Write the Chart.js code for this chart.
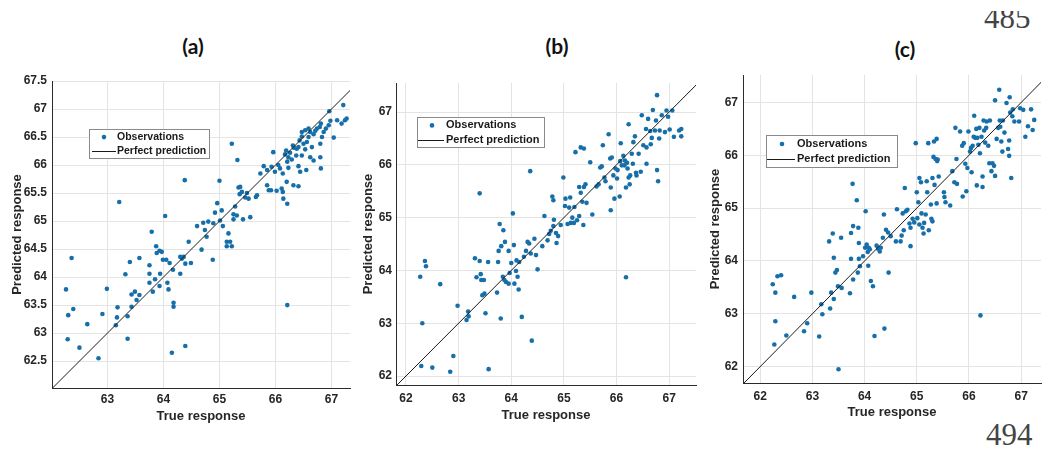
<!DOCTYPE html>
<html>
<head>
<meta charset="utf-8">
<script src="https://cdn.jsdelivr.net/npm/chart.js@4.4.0/dist/chart.umd.min.js"></script>
<style>
  body { margin: 0; background: #fff; width: 1045px; height: 450px; overflow: hidden; position: relative; }
  .panel { position: absolute; top: 0; }
  .tag { position: absolute; transform: translate(-50%, -50%); font: bold 21px Lato, "Open Sans", sans-serif; color: #111; }
  .pageno { position: absolute; font: 31px "Liberation Serif", serif; color: #444; line-height: 1; }
  .clip { position: absolute; overflow: hidden; }
</style>
</head>
<body>
<div class="tag" style="left:193px;top:45px">(a)</div>
<div class="tag" style="left:557px;top:45px">(b)</div>
<div class="tag" style="left:905px;top:48px">(c)</div>
<div class="clip" style="left:980px;top:11px;width:65px;height:20px"><div class="pageno" style="left:4px;top:-9px">485</div></div>
<div class="pageno" style="left:986px;top:419px">494</div>

<div class="panel" style="left:0px"><canvas id="chartA" width="355" height="450"></canvas></div>
<div class="panel" style="left:355px"><canvas id="chartB" width="345" height="450"></canvas></div>
<div class="panel" style="left:700px"><canvas id="chartC" width="345" height="450"></canvas></div>

<script>
// ------------------------------
// DATA
// ------------------------------
const trueA = [62.26,62.36,62.30,62.39,62.29,62.50,62.64,62.84,62.91,62.99,
  63.21,63.18,63.17,63.15,63.32,63.36,63.36,63.40,63.43,63.49,
  63.43,63.52,63.57,63.57,63.75,63.75,63.79,63.75,63.81,63.85,
  63.87,63.88,63.93,63.97,63.93,63.94,63.99,64.05,64.11,64.03,
  64.07,64.09,64.17,64.18,64.18,64.15,64.30,64.33,64.36,64.38,
  64.39,64.39,64.45,64.49,64.30,64.60,64.68,64.71,64.74,64.77,
  64.80,64.88,64.89,64.92,64.96,65.00,65.01,65.04,65.06,65.13,
  65.13,65.16,65.19,65.22,65.22,65.25,65.25,65.28,65.31,65.34,
  65.32,65.36,65.37,65.40,65.42,65.46,65.49,65.52,65.55,65.65,
  65.67,65.73,65.79,65.85,65.88,65.85,65.92,65.93,65.96,65.99,
  66.02,66.05,66.08,66.11,66.13,66.13,66.14,66.17,66.19,66.21,
  66.23,66.23,66.20,66.21,66.26,66.29,66.31,66.32,66.33,66.37,
  66.38,66.41,66.43,66.44,66.47,66.47,66.50,66.53,66.56,66.59,
  66.41,66.21,66.47,66.53,66.59,66.62,66.68,66.71,66.74,66.79,
  66.81,66.86,66.90,66.95,66.98,66.96,67.21,67.10,67.18,67.24,
  67.27,67.04,66.83,66.80,66.65,66.80,66.62,66.55,66.81,66.41,
  66.68];
const predA = [63.78,64.34,63.32,63.43,62.89,62.74,63.16,62.55,63.34,63.79,
  65.34,63.46,63.28,63.14,64.05,63.30,62.90,64.27,63.69,63.74,
  63.47,63.59,64.34,63.68,63.90,64.21,64.81,64.06,63.74,63.96,
  64.55,64.43,64.47,64.45,63.84,64.06,64.31,64.31,64.25,65.09,
  63.90,63.78,64.13,63.47,63.54,62.65,64.06,64.33,64.36,65.73,
  64.24,62.77,64.63,64.25,64.36,64.91,64.49,64.97,64.84,64.72,
  64.99,64.31,64.96,65.15,65.32,65.72,65.01,65.19,64.91,64.55,
  64.63,64.78,64.63,64.55,66.38,65.12,65.03,65.26,65.10,65.60,
  66.09,65.48,65.61,65.52,65.03,65.42,65.50,65.40,65.07,65.43,
  65.46,65.85,65.98,65.91,65.55,65.64,65.55,65.97,66.23,65.88,
  65.54,66.00,65.94,65.58,65.52,65.85,65.40,66.19,66.26,66.06,
  66.14,65.95,65.70,65.31,66.22,66.10,66.35,65.64,66.31,66.17,
  66.29,65.98,66.44,65.88,66.17,66.51,66.38,66.28,66.41,66.50,
  65.62,63.50,66.59,66.62,66.65,66.59,66.55,66.61,66.65,66.68,
  66.74,66.59,66.65,66.71,66.79,66.96,67.07,66.80,66.74,66.80,
  66.83,66.49,66.50,66.38,66.32,66.14,66.14,65.91,65.94,66.32,
  66.08];

const trueB = [62.27,62.36,62.38,62.31,62.29,62.50,62.65,62.84,62.90,62.98,
  63.40,63.15,63.19,63.18,63.31,63.34,63.40,63.42,63.43,63.48,
  63.45,63.49,63.51,63.56,63.57,63.73,63.75,63.76,63.78,63.80,
  63.81,63.85,63.84,63.87,63.90,63.88,63.95,63.95,63.97,64.00,
  64.03,64.05,64.06,64.09,64.10,64.12,64.15,64.14,64.20,64.24,
  64.28,64.31,64.36,64.34,64.37,64.39,64.44,64.47,64.50,64.59,
  64.63,64.69,64.72,64.75,64.78,64.80,64.80,64.81,64.85,64.86,
  64.89,64.94,64.99,65.02,65.03,65.07,65.10,65.13,65.12,65.16,
  65.19,65.20,65.22,65.25,65.29,65.29,65.32,65.32,65.35,65.37,
  65.38,65.38,65.41,65.43,65.50,65.54,65.62,65.66,65.69,65.72,
  65.74,65.77,65.79,65.85,65.88,65.89,65.91,65.94,65.96,65.98,
  66.01,66.02,66.07,66.08,66.10,66.06,66.13,66.15,66.16,66.18,
  66.20,66.21,66.23,66.25,66.23,66.26,66.29,66.31,66.32,66.35,
  66.37,66.38,66.42,66.46,66.48,66.51,66.56,66.57,66.60,66.64,
  66.67,66.69,66.73,66.75,66.77,66.77,66.79,66.81,66.82,66.86,
  66.92,66.95,66.98,67.01,67.06,67.09,67.19,67.23,67.23,66.18,
  66.57,66.65,65.89];
const predB = [63.88,64.18,64.08,63.00,62.19,62.16,63.74,62.08,62.38,63.33,
  65.46,63.06,63.13,63.22,64.23,63.87,64.18,63.93,63.82,63.82,
  63.53,63.56,63.19,64.16,62.13,63.58,64.16,64.37,64.88,63.09,
  64.46,64.76,63.88,63.82,63.78,64.54,64.37,63.75,63.95,64.14,
  65.08,64.48,63.75,63.99,64.19,63.88,64.16,63.64,63.12,64.26,
  64.37,64.54,65.88,64.51,64.32,62.67,64.60,64.29,64.02,64.46,
  65.03,64.57,64.69,64.75,65.40,65.33,64.84,64.96,64.71,64.52,
  64.65,64.86,65.76,65.22,65.36,64.88,65.19,64.90,65.38,65.00,
  64.90,65.20,66.24,64.95,65.03,65.58,66.33,65.47,65.30,64.86,
  66.31,65.58,65.63,65.28,66.05,65.06,65.59,65.63,65.95,65.97,
  66.37,65.76,65.69,66.58,66.12,65.57,66.14,65.80,65.36,65.93,
  65.74,65.90,66.07,66.41,65.99,65.40,66.17,65.99,66.08,65.57,
  66.04,65.93,66.77,65.63,65.76,65.80,66.21,66.02,66.43,66.54,
  65.85,65.80,66.21,65.87,66.94,66.37,66.68,66.33,66.87,66.64,
  66.51,67.04,66.65,66.84,67.32,65.90,65.69,66.50,66.65,66.94,
  66.62,67.03,66.91,66.67,67.03,66.53,66.65,66.68,66.54,63.87,
  66.02,66.39,65.14];

const trueC = [62.24,62.33,62.40,62.29,62.29,62.27,62.50,62.65,62.84,62.90,
  62.98,63.13,63.19,63.17,63.32,63.34,63.36,63.39,63.41,63.41,
  63.44,63.47,63.49,63.50,63.55,63.56,63.72,63.74,63.74,63.77,
  63.78,63.78,63.85,63.87,63.88,63.89,63.89,63.91,63.97,64.01,
  64.02,64.04,64.06,64.07,64.08,64.10,64.12,64.16,64.19,64.23,
  64.26,64.29,64.31,64.35,64.37,64.38,64.41,64.45,64.46,64.50,
  64.60,64.62,64.69,64.71,64.73,64.75,64.77,64.79,64.82,64.86,
  64.88,64.88,64.92,64.95,64.98,65.00,65.01,65.03,65.05,65.05,
  65.08,65.09,65.11,65.13,65.14,65.17,65.19,65.20,65.22,65.23,
  65.27,65.28,65.30,65.30,65.32,65.33,65.34,65.36,65.38,65.39,
  65.38,65.40,65.42,65.52,65.53,65.55,65.64,65.68,65.72,65.74,
  65.76,65.77,65.83,65.87,65.88,65.90,65.93,65.95,65.97,65.99,
  66.02,66.04,66.05,66.07,66.09,66.10,66.12,66.14,66.15,66.16,
  66.18,66.20,66.21,66.22,66.24,66.26,66.26,66.28,66.29,66.31,
  66.33,66.34,66.37,66.39,66.40,66.43,66.45,66.48,66.50,66.50,
  66.53,66.56,66.58,66.59,66.62,66.64,66.65,66.68,66.72,66.75,
  66.77,66.78,66.79,66.81,66.83,66.84,66.87,66.96,66.98,67.04,
  67.08,67.13,67.19,67.22,67.25,66.77,66.60];
const predC = [63.56,63.71,63.73,63.40,62.86,62.42,62.59,63.32,62.67,62.82,
  63.40,62.57,62.99,63.18,64.37,63.10,63.40,64.52,64.06,63.28,
  63.78,63.83,63.52,61.95,64.44,63.49,63.39,64.04,64.53,65.46,
  64.66,63.65,65.15,63.78,64.63,64.34,64.04,63.90,64.09,64.25,
  64.94,64.31,64.17,63.91,64.25,64.22,63.62,63.52,62.58,64.29,
  64.23,64.18,64.25,64.44,64.88,62.72,64.59,64.54,63.78,64.47,
  64.37,64.98,64.37,64.48,64.90,64.58,65.38,64.94,64.97,64.71,
  64.63,64.28,64.80,64.73,66.23,65.30,64.81,65.11,65.57,64.69,
  65.49,64.90,64.63,64.52,64.72,64.88,65.51,65.30,66.23,64.58,
  65.07,64.80,64.75,65.57,65.97,66.26,65.44,65.93,65.09,65.89,
  66.31,65.92,65.60,65.30,65.21,65.11,65.05,65.70,65.49,66.52,
  65.93,65.46,66.45,66.18,65.22,66.23,65.84,65.32,65.76,66.45,
  66.07,66.14,65.68,66.18,66.35,66.75,66.33,66.50,65.43,66.33,
  66.20,66.52,66.04,62.97,66.35,65.60,65.40,66.66,66.47,66.24,
  66.52,66.64,66.18,65.85,66.66,65.70,65.85,65.80,65.61,67.04,
  66.31,66.52,67.24,66.66,66.26,66.07,66.66,66.43,66.99,66.12,
  65.99,67.10,66.81,65.57,66.74,66.87,66.64,66.64,66.89,66.86,
  66.35,66.55,66.87,66.48,66.67,66.28,66.54];

// perfect prediction line (y = x) ends
const perfectLine = [61.5, 67.6];

// tick labels and axis ranges
const xTicksA = [63, 64, 65, 66, 67];
const yTicksA = [62.5, 63, 63.5, 64, 64.5, 65, 65.5, 66, 66.5, 67, 67.5];
const xTicksBC = [62, 63, 64, 65, 66, 67];
const yTicksBC = [62, 63, 64, 65, 66, 67];
const xRangeA = [62.01, 67.33], yRangeA = [62.02, 67.5];
const xRangeB = [61.81, 67.51], yRangeB = [61.83, 67.55];
const xRangeC = [61.67, 67.38], yRangeC = [61.69, 67.52];

const seriesLabels = ["Observations", "Perfect prediction"];

// ------------------------------
// LEGEND BOX INSIDE THE AXES
// ------------------------------
const legendBoxPlugin = {
  id: "legendBox",
  afterDraw(chart, args, b) {
    const ctx = chart.ctx;
    const obs = chart.data.datasets[0];
    const line = chart.data.datasets[1];
    const r1 = b.y + b.h * 0.28;
    const r2 = b.y + b.h * 0.75;
    ctx.save();
    ctx.fillStyle = "#ffffff";
    ctx.fillRect(b.x, b.y, b.w, b.h);
    ctx.strokeStyle = "#8a8a8a";
    ctx.lineWidth = 1;
    ctx.strokeRect(b.x + 0.5, b.y + 0.5, b.w, b.h);
    ctx.fillStyle = obs.backgroundColor;
    ctx.beginPath();
    ctx.arc(b.x + b.mx, r1, 2.3, 0, Math.PI * 2);
    ctx.fill();
    ctx.strokeStyle = line.borderColor;
    ctx.beginPath();
    ctx.moveTo(b.x + b.l0, Math.round(r2) + 0.5);
    ctx.lineTo(b.x + b.l1, Math.round(r2) + 0.5);
    ctx.stroke();
    ctx.fillStyle = "#1a1a1a";
    ctx.font = "bold " + b.fs + "px Arial, 'Liberation Sans', sans-serif";
    ctx.textBaseline = "middle";
    ctx.fillText(obs.label, b.x + b.tx, r1);
    ctx.fillText(line.label, b.x + b.tx, r2);
    ctx.restore();
  },
};

const tickFont = { family: "Arial, 'Liberation Sans', sans-serif", size: 12, weight: "bold" };
const titleFont = { family: "Arial, 'Liberation Sans', sans-serif", size: 13, weight: "bold" };

function makeChart(id, xs, ys, cfg) {
  const points = xs.map((x, i) => ({ x: x, y: ys[i] }));
  const diag = perfectLine.map((v) => ({ x: v, y: v }));

  return new Chart(document.getElementById(id), {
    type: "scatter",
    data: {
      datasets: [
        {
          label: seriesLabels[0],
          data: points,
          backgroundColor: "#176fa9",
          borderWidth: 0,
          pointRadius: 2.3,
          order: 1,
        },
        {
          label: seriesLabels[1],
          data: diag,
          showLine: true,
          borderColor: "#1a1a1a",
          borderWidth: 1,
          pointRadius: 0,
          order: 0,
        },
      ],
    },
    options: {
      responsive: false,
      animation: false,
      layout: { padding: { left: 0, top: cfg.top, right: cfg.right, bottom: 0 } },
      plugins: {
        legend: { display: false },
        tooltip: { enabled: false },
        legendBox: cfg.box,
      },
      scales: {
        x: {
          type: "linear",
          min: cfg.xRange[0],
          max: cfg.xRange[1],
          afterBuildTicks: (s) => { s.ticks = cfg.xTicks.map((v) => ({ value: v })); },
          afterFit: (s) => { s.height = cfg.xH; s.paddingLeft = 0; s.paddingRight = 0; },
          grid: { color: "#e4e4e4", drawTicks: false },
          border: { color: "#2b2b2b" },
          ticks: { color: "#262626", font: tickFont, padding: cfg.xTickPad, callback: (v) => String(v) },
          title: {
            display: true, text: "True response", color: "#262626", font: titleFont,
            padding: { top: 0, bottom: cfg.xTitlePad },
          },
        },
        y: {
          type: "linear",
          min: cfg.yRange[0],
          max: cfg.yRange[1],
          afterBuildTicks: (s) => { s.ticks = cfg.yTicks.map((v) => ({ value: v })); },
          afterFit: (s) => { s.width = cfg.yW; s.paddingTop = 0; s.paddingBottom = 0; },
          grid: { color: "#e4e4e4", drawTicks: false },
          border: { color: "#2b2b2b" },
          ticks: { color: "#262626", font: tickFont, padding: cfg.yTickPad, callback: (v) => String(v) },
          title: {
            display: true, text: "Predicted response", color: "#262626", font: titleFont,
            padding: { top: cfg.yTitlePad, bottom: 0 },
          },
        },
      },
    },
    plugins: [legendBoxPlugin],
  });
}

// ------------------------------
// THE THREE PANELS
// ------------------------------
makeChart("chartA", trueA, predA, {
  xRange: xRangeA, yRange: yRangeA, xTicks: xTicksA, yTicks: yTicksA,
  top: 81, right: 5, xH: 62, yW: 52,
  xTickPad: 4, yTickPad: 5, xTitlePad: 26, yTitlePad: 10,
  box: { x: 89, y: 129, w: 120, h: 29, mx: 15, tx: 28, l0: 3, l1: 27, fs: 10.5 },
});

makeChart("chartB", trueB, predB, {
  xRange: xRangeB, yRange: yRangeB, xTicks: xTicksBC, yTicks: yTicksBC,
  top: 83, right: 2, xH: 65, yW: 41,
  xTickPad: 6, yTickPad: 4, xTitlePad: 27, yTitlePad: 6,
  box: { x: 62, y: 117, w: 127, h: 30, mx: 15, tx: 29, l0: 1, l1: 27, fs: 11 },
});

makeChart("chartC", trueC, predC, {
  xRange: xRangeC, yRange: yRangeC, xTicks: xTicksBC, yTicks: yTicksBC,
  top: 75, right: 0, xH: 67, yW: 43,
  xTickPad: 6, yTickPad: 5, xTitlePad: 30, yTitlePad: 8,
  box: { x: 66, y: 135, w: 131, h: 32, mx: 16, tx: 31, l0: 1, l1: 29, fs: 11 },
});
</script>
</body>
</html>
